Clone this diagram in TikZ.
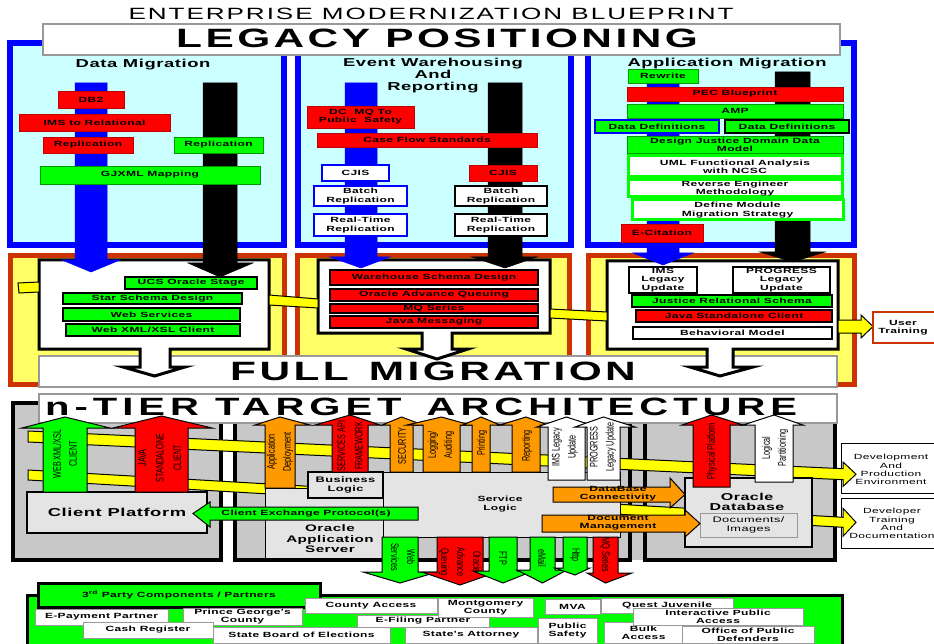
\documentclass[tikz,border=0pt]{standalone}
\usepackage{fontspec}
\setmainfont{Liberation Sans}
\newfontfamily\labf{Liberation Sans}[FakeStretch=1.6,LetterSpace=5]
\newfontfamily\cndf{Liberation Sans}[FakeStretch=0.66]
\newfontfamily\ttlf{Liberation Sans}[FakeStretch=1.6,LetterSpace=12]
\newfontfamily\bigf{Liberation Sans}[FakeStretch=1.6,LetterSpace=13]
\newcommand\fz[2]{\fontsize{#1}{#2}\selectfont}
\definecolor{cyanbg}{HTML}{CCFFFF}
\definecolor{pblue}{HTML}{0000FF}
\definecolor{pgreen}{HTML}{00FF00}
\definecolor{pred}{HTML}{FF0000}
\definecolor{porange}{HTML}{FF9900}
\definecolor{pyellow}{HTML}{FFFF00}
\definecolor{lyellow}{HTML}{FFFF66}
\definecolor{obrd}{HTML}{CC3300}
\definecolor{gpanel}{HTML}{C8C8C8}
\definecolor{lgray}{HTML}{E4E4E4}
\definecolor{bgray}{HTML}{999999}
\tikzset{
 tpanel/.style={fill=cyanbg, draw=pblue, line width=6},
 mpanel/.style={fill=lyellow, draw=obrd, line width=5},
 titlebox/.style={fill=white, draw=bgray, line width=1.2, inner sep=0},
 bigtxt/.style={font=\bigf\bfseries\fz{26.5}{27}, inner sep=0},
 ptitle/.style={font=\labf\bfseries\fz{11.5}{12}, inner sep=0, align=center},
 innerbox/.style={fill=white, draw=black, line width=3},
 ybar/.style={fill=pyellow, draw=black, line width=1},
 barb/.style={fill=pblue, draw=pblue, line width=0.5},
 bark/.style={fill=black, draw=black, line width=0.5},
 bx/.style={inner sep=0pt, outer sep=0pt, align=center, font=\labf\bfseries\fz{7.5}{8.3}},
 rb/.style={bx, fill=pred, draw=red!75!black, line width=0.5},
 gb/.style={bx, fill=pgreen, draw=green!60!black, line width=0.5},
 wbb/.style={bx, fill=white, draw=pblue, line width=2.5},
 wkb/.style={bx, fill=white, draw=black, line width=2.5},
 gbb/.style={bx, fill=pgreen, draw=pblue, line width=2},
 gkb/.style={bx, fill=pgreen, draw=black, line width=2},
 rkb/.style={bx, fill=pred, draw=black, line width=2},
 wgb/.style={bx, fill=white, draw=pgreen, line width=3},
 sb/.style={bx, fill=white, draw=bgray, line width=0.8},
 utb/.style={bx, fill=white, draw=obrd, line width=2},
 pborder/.style={draw=black, line width=4},
 lgbox/.style={bx, fill=lgray, draw=black, line width=1.5},
 docb/.style={bx, fill=lgray, draw=bgray, line width=1, font=\labf\fz{8}{8.5}},
 devb/.style={bx, fill=white, draw=black, line width=1},
 devt/.style={inner sep=0, align=center, font=\labf\fz{7.5}{8.3}},
 arr/.style={draw=black, line width=1, line join=miter},
 garr/.style={arr, fill=pgreen},
 rarr/.style={arr, fill=pred},
 oarr/.style={arr, fill=porange},
 warr/.style={arr, fill=white},
 yarr/.style={arr, fill=pyellow},
 cnd/.style={inner sep=0, align=center, font=\cndf\fz{11}{16}},
 cndw/.style={font=\cndf\fz{11}{17.5}},
 hlab/.style={inner sep=0, align=center, font=\labf\bfseries\fz{7.5}{8.3}},
 tabb/.style={bx, fill=pgreen, draw=black, line width=3},
}
\newcommand\boxat[7]{\node[#6, minimum width={#4-#2}, minimum height={#5-#3}] (#1) at ({(#2+#4)/2},{(#3+#5)/2}) {#7};}
% vertical fat arrow: xL xR headL headR yTip yBase yEnd style
\newcommand\arrv[8]{\draw[#8] (#1,#7) -- (#1,#6) -- (#3,#6) -- ({(#1+#2)/2},#5) -- (#4,#6) -- (#2,#6) -- (#2,#7) -- cycle;}
% horizontal fat arrow: yT yB headT headB xTip xBase xEnd style
\newcommand\arrh[8]{\draw[#8] (#7,#1) -- (#6,#1) -- (#6,#3) -- (#5,{(#1+#2)/2}) -- (#6,#4) -- (#6,#2) -- (#7,#2) -- cycle;}
\begin{document}
\begin{tikzpicture}[x=1pt,y=-1pt,line join=miter]
\useasboundingbox (0,0) rectangle (934,644);
\clip (0,0) rectangle (934,644);
\fill[white] (0,0) rectangle (934,644);

% ---------- title ----------
\node[font=\ttlf\fz{16.3}{17}, anchor=base, inner sep=0] (title) at (431,20) {ENTERPRISE MODERNIZATION BLUEPRINT};

% ---------- top panels ----------
\draw[tpanel] (10,43) rectangle (284,245);
\draw[tpanel] (298,43) rectangle (571,245);
\draw[tpanel] (588,43) rectangle (854,245);
\boxat{legacybox}{43}{24}{840}{55}{titlebox}{}
\node[bigtxt, anchor=base] (legacy) at (437,48) {LEGACY POSITIONING};
\node[ptitle, anchor=base] (dmt) at (143,68) {Data Migration};
\node[ptitle] (ewt) at (433,75.7) {Event Warehousing\\And\\Reporting};
\node[ptitle, anchor=base] (amt) at (727,66.7) {Application Migration};

% ---------- middle panels ----------
\draw[mpanel] (10.5,256) rectangle (284,384);
\draw[mpanel] (297.5,256) rectangle (569.5,384);
\draw[mpanel] (588.5,256) rectangle (854.5,384);
\boxat{fullbox}{39}{356}{837}{387}{titlebox}{}
\node[bigtxt, anchor=base] (full) at (433,380.7) {FULL\hspace{20pt}MIGRATION};

\draw[innerbox] (39,260) -- (269,260) -- (269,349) -- (170,349) -- (170,367) -- (185,367) -- (154.5,376) -- (123,367) -- (140,367) -- (140,349) -- (39,349) -- cycle;
\draw[innerbox] (318,260) -- (550,260) -- (550,333) -- (452,333) -- (452,349) -- (468,349) -- (437,359) -- (406,349) -- (422,349) -- (422,333) -- (318,333) -- cycle;
\draw[innerbox] (607,261) -- (838,261) -- (838,349) -- (733,349) -- (733,367) -- (753,367) -- (720,376) -- (690,367) -- (707,367) -- (707,349) -- (607,349) -- cycle;

\draw[ybar] (18,283) -- (39,282) -- (39,292) -- (19,293) -- cycle;
\draw[ybar] (269,295) -- (318,299) -- (318,308) -- (269,305) -- cycle;
\draw[ybar] (550,309) -- (607,312) -- (607,321) -- (550,318) -- cycle;
\arrh{320}{333}{315}{338}{873}{861}{838}{yarr}
\boxat{utbox}{873}{312}{945}{343}{utb}{}
\node[hlab] (utt) at (903,327.5) {User\\Training};

% ---------- top arrows ----------
\arrv{75}{107}{62}{120}{272}{260}{83}{barb}
\arrv{203}{237}{188}{253}{277}{263}{83}{bark}
\arrv{345}{377}{330}{390}{268}{257}{83}{barb}
\arrv{488}{522}{472}{537}{268}{257}{83}{bark}
\arrv{647}{679}{633}{693}{265}{253}{75}{barb}
\arrv{775}{810}{760}{825}{262}{252}{72}{bark}

% ---------- top boxes ----------
\boxat{db2}{58}{91}{124}{108}{rb}{DB2}
\boxat{imsrel}{19}{114}{170}{131}{rb}{IMS to Relational}
\boxat{rep1}{43}{137}{133}{153}{rb}{Replication}
\boxat{rep2}{174}{137}{263}{153}{gb}{Replication}
\boxat{gjx}{40}{166}{260}{184}{gb}{GJXML Mapping}

\boxat{dcmq}{307}{106}{414}{128}{rb}{DC\ \ MQ To\\Public\ \ Safety}
\boxat{cfs}{317}{133}{537}{147}{rb}{Case Flow Standards}
\boxat{cjis1}{322}{165}{389}{181}{wbb}{CJIS}
\boxat{cjis2}{469}{165}{537}{181}{rb}{CJIS}
\boxat{br1}{314}{186}{407}{206}{wbb}{Batch\\Replication}
\boxat{br2}{455}{186}{547}{206}{wkb}{Batch\\Replication}
\boxat{rt1}{314}{214}{407}{236}{wbb}{Real-Time\\Replication}
\boxat{rt2}{455}{214}{547}{236}{wkb}{Real-Time\\Replication}

\boxat{rew}{628}{69}{698}{83}{gb}{Rewrite}
\boxat{pec}{627}{87}{843}{101}{rb}{PEC Blueprint}
\boxat{amp}{627}{104}{843}{118}{gb}{AMP}
\boxat{dd1}{595}{120}{719}{133}{gbb}{Data Definitions}
\boxat{dd2}{725}{120}{849}{133}{gkb}{Data Definitions}
\boxat{djd}{627}{136}{843}{153}{gb}{Design Justice Domain Data\\Model}
\boxat{uml}{628}{156}{842}{177}{wgb}{UML Functional Analysis\\with NCSC}
\boxat{rev}{628}{180}{842}{197}{wgb}{Reverse Engineer\\Methodology}
\boxat{dmm}{632}{200}{843}{220}{wgb}{Define Module\\Migration Strategy}
\boxat{ecit}{621}{224}{703}{242}{rb}{E-Citation}

% ---------- middle boxes ----------
\boxat{ucs}{125}{277}{257}{289}{gkb}{UCS Oracle Stage}
\boxat{ssd}{63}{293}{242}{304}{gkb}{Star Schema Design}
\boxat{wsv}{63}{308}{240}{321}{gkb}{Web Services}
\boxat{wxc}{66}{324}{240}{336}{gkb}{Web XML/XSL Client}
\boxat{wsd}{330}{270}{538}{285}{rkb}{Warehouse Schema Design}
\boxat{oaqm}{330}{289}{538}{301}{rkb}{Oracle Advance Queuing}
\boxat{mqsm}{330}{304}{538}{313}{rkb}{MQ Series}
\boxat{jm}{330}{316}{538}{328}{rkb}{Java Messaging}
\boxat{imsl}{629}{267}{697}{293}{wkb}{IMS\\Legacy\\Update}
\boxat{prl}{733}{267}{830}{293}{wkb}{PROGRESS\\Legacy\\Update}
\boxat{jrs}{632}{295}{832}{307}{gkb}{Justice Relational Schema}
\boxat{jsc}{636}{310}{832}{322}{rkb}{Java Standalone Client}
\boxat{bhm}{633}{327}{832}{339}{wkb}{Behavioral Model}

% ---------- bottom section ----------
\fill[gpanel] (12.5,402.5) rectangle (220.5,560);
\fill[gpanel] (234.5,402.5) rectangle (834.5,560);
\draw[pborder] (12.5,402.5) rectangle (220.5,560);
\draw[pborder] (234.5,402.5) rectangle (630,560);
\draw[pborder] (645,402.5) rectangle (834.5,560);
\boxat{devbox}{841}{443}{945}{493}{devb}{}
\boxat{dtrbox}{841}{498}{945}{548}{devb}{}
\draw[ybar] (28,431) -- (843,468.7) -- (843,462) -- (856,474.2) -- (843,486.4) -- (843,479.7) -- (28,442) -- cycle;
\draw[ybar] (28,470) -- (843,517.3) -- (843,508.3) -- (856,522.3) -- (843,536.3) -- (843,527.3) -- (28,480) -- cycle;
\node[devt] (devt) at (891,469.5) {Development\\And\\Production\\Environment};
\node[devt] (dtrt) at (892,523.5) {Developer\\Training\\And\\Documentation};

\boxat{ntierbox}{39}{394}{837}{423}{titlebox}{}
\node[bigtxt, font=\bigf\bfseries\fz{25}{26}\addfontfeature{LetterSpace=20}, anchor=base west] (ntier) at (45,415) {n-TIER TARGET\hspace{25pt}ARCHITECTURE};

% boxes
\boxat{cp}{27}{492}{207}{533}{lgbox, font=\labf\bfseries\fz{11.5}{12}}{Client Platform}
\boxat{oas}{265}{488}{383}{558}{lgbox, line width=1}{}
\boxat{sl}{383}{472}{620}{537}{lgbox, line width=1}{}
\boxat{bl}{308}{472}{383}{498}{lgbox, font=\labf\bfseries\fz{8}{9}}{Business\\Logic}
\node[hlab, font=\labf\bfseries\fz{9.5}{10.5}] (oast) at (330,539) {Oracle\\Application\\Server};
\node[hlab] (slt) at (500,504) {Service\\Logic};
\boxat{odb}{685}{478}{812}{547}{lgbox}{}
\node[hlab, font=\labf\bfseries\fz{10}{10}] (odbt) at (747,502) {Oracle\\Database};
\boxat{doc}{700}{513}{797}{537}{docb}{Documents/\\Images}

% up arrows
\arrv{43}{87}{22}{110}{417}{428}{492}{garr}
\arrv{135}{188}{113}{212}{416}{428}{492}{rarr}
\arrv{265}{295}{255}{310}{417}{425}{488}{oarr}
\arrv{332}{368}{315}{380}{415}{425}{472}{rarr}
\arrv{390}{413}{382}{423}{417}{425}{472}{oarr}
\arrv{423}{460}{407}{470}{417}{425}{472}{oarr}
\arrv{472}{490}{463}{500}{417}{425}{472}{oarr}
\arrv{512}{540}{500}{548}{417}{425}{472}{oarr}
\arrv{548}{585}{537}{597}{417}{427}{480}{warr}
\arrv{587}{620}{575}{635}{417}{427}{480}{warr}
\arrv{693}{730}{682}{743}{415}{425}{487}{rarr}
\arrv{755}{793}{743}{803}{415}{425}{482}{warr}
\node[cnd, rotate=90] (tweb) at (65,454) {WEB XML/XSL\\CLIENT};
\node[cnd, cndw, rotate=90] (tjava) at (160,458) {JAVA\\STANDALONE\\CLIENT};
\node[cnd, rotate=90] (tapp) at (280,452) {Application\\Deployment};
\node[cnd, cndw, rotate=90] (tsvc) at (350,446) {SERVICES API\\FRAMEWORK};
\node[cnd, rotate=90] (tsec) at (402,446) {SECURITY};
\node[cnd, rotate=90] (tlog) at (441,445) {Logging/\\Auditing};
\node[cnd, rotate=90] (tprt) at (482,443) {Printing};
\node[cnd, rotate=90] (trep) at (527,446) {Reporting};
\node[cnd, rotate=90] (tims) at (565,447) {IMS Legacy\\Update};
\node[cnd, rotate=90] (tprg) at (603,447) {PROGRESS\\Legacy Update};
\node[cnd, rotate=90] (tphy) at (712,451) {Physical Platform};
\node[cnd, rotate=90] (tlgp) at (775,448) {Logical\\Partitioning};

% horizontal arrows
\arrh{507}{520}{502}{527}{193}{210}{418}{garr}
\node[hlab] (cep) at (306,514) {Client Exchange Protocol(s)};
\arrh{487}{502}{478}{508}{685}{670}{553}{oarr}
\node[hlab] (dbc) at (618,494) {DataBase\\Connectivity};
\arrh{515}{532}{510}{537}{700}{685}{542}{oarr}
\node[hlab] (dcm) at (618,523) {Document\\Management};

% down arrows
\arrv{382}{418}{363}{437}{583}{572}{537}{garr}
\arrv{437}{483}{422}{497}{585}{572}{537}{rarr}
\arrv{489}{517}{473}{533}{583}{571}{537}{garr}
\arrv{530}{555}{517}{567}{583}{570}{537}{garr}
\arrv{563}{587}{555}{590}{575}{568}{537}{garr}
\arrv{593}{618}{587}{632}{583}{573}{537}{rarr}
\node[cnd, rotate=-90] (twsv) at (403,557) {Web\\Services};
\node[cnd, rotate=-90] (toaq) at (460,562) {Oracle\\Advance\\Queuing};
\node[cnd, rotate=-90] (tftp) at (503,558) {FTP};
\node[cnd, rotate=-90] (teml) at (542,558) {eMail};
\node[cnd, rotate=-90] (thtp) at (575,555) {Http};
\node[cnd, rotate=-90] (tmqs) at (605,555) {MQ Series};

% ---------- partners strip ----------
\draw[fill=pgreen, draw=black, line width=3] (27,595) rectangle (842,660);
\boxat{tab}{38}{583}{320}{607}{tabb}{3\textsuperscript{rd} Party Components / Partners}
\boxat{epay}{35}{609}{168}{625}{sb}{E-Payment Partner}
\boxat{pgc}{183}{608}{302}{625}{sb}{Prince George's\\County}
\boxat{cacc}{305}{598}{437}{613}{sb}{County Access}
\boxat{efil}{357}{615}{489}{627}{sb}{E-Filing Partner}
\boxat{mont}{438}{598}{533}{617}{sb}{Montgomery\\County}
\boxat{cash}{83}{622}{213}{638}{sb}{Cash Register}
\boxat{sboe}{213}{627}{390}{643}{sb}{State Board of Elections}
\boxat{satt}{405}{627}{537}{643}{sb}{State's Attorney}
\boxat{mva}{545}{599}{600}{614}{sb}{MVA}
\boxat{psaf}{538}{618}{597}{643}{sb}{Public\\Safety}
\boxat{quest}{601}{598}{733}{613}{sb}{Quest Juvenile}
\boxat{bulk}{604}{622}{683}{643}{sb}{Bulk\\Access}
\boxat{ipa}{633}{608}{803}{625}{sb}{Interactive Public\\Access}
\boxat{opd}{682}{626}{814}{643}{sb}{Office of Public\\Defenders}
\end{tikzpicture}
\end{document}
